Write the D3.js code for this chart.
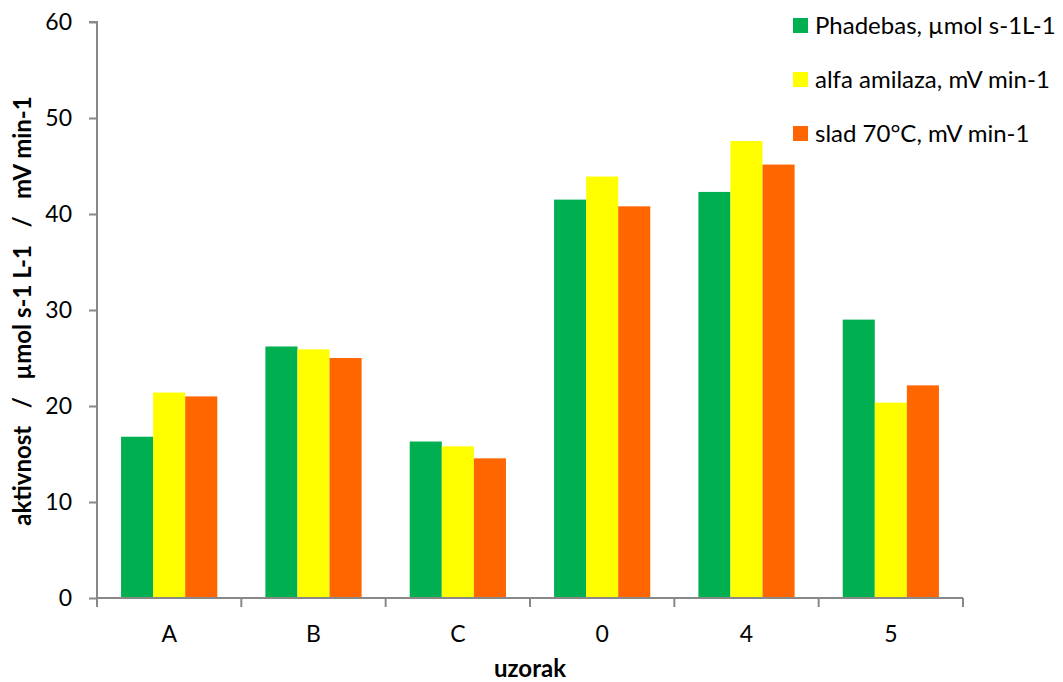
<!DOCTYPE html>
<html><head><meta charset="utf-8">
<script src="https://cdn.jsdelivr.net/npm/d3@7"></script>
<style>
body{margin:0;background:#fff;}
text{font-family:Lato, "Open Sans", sans-serif;}
</style></head>
<body><svg id="c" width="1063" height="682"></svg>
<script>
const categories = ["A","B","C","0","4","5"];
const seriesNames = ["Phadebas, µmol s-1L-1","alfa amilaza, mV min-1","slad 70°C, mV min-1"];
const phadebas = [16.8, 26.2, 16.3, 41.5, 42.3, 29.0];
const alfaAmilaza = [21.4, 25.9, 15.8, 43.9, 47.6, 20.35];
const slad70 = [21.0, 25.0, 14.55, 40.8, 45.15, 22.15];
const yTicks = [0,10,20,30,40,50,60];
const colors = ["#00B050","#FFFF00","#FF6600"];
const seriesValues = [phadebas, alfaAmilaza, slad70];

const svg = d3.select("#c");
const m = {left:97, right:963, top:22, bottom:598};
const x = d3.scaleBand().domain(categories).range([m.left, m.right]).paddingInner(0).paddingOuter(0);
const inner = d3.scaleBand().domain(d3.range(3)).range([0, x.bandwidth()]).paddingInner(0).paddingOuter(0.75);
const y = d3.scaleLinear().domain([0,60]).range([m.bottom, m.top]);

// bars
seriesValues.forEach((vals, si) => {
  svg.append("g").selectAll("rect").data(vals).join("rect")
    .attr("x", (d,i) => x(categories[i]) + inner(si))
    .attr("y", d => y(d))
    .attr("width", inner.bandwidth())
    .attr("height", d => y(0) - y(d))
    .attr("fill", colors[si]);
});

// y axis
const ya = svg.append("g").attr("transform", `translate(${m.left},0)`)
  .call(d3.axisLeft(y).tickValues(yTicks).tickSize(8).tickPadding(17));
ya.select(".domain").attr("stroke","#888").attr("stroke-width",2).attr("d", `M-8,${y(60)}H0V${y(0)}`);
ya.selectAll(".tick line").attr("stroke","#888").attr("stroke-width",2);
ya.selectAll(".tick text").attr("font-size",23).attr("fill","#000").attr("font-family","Lato");

// x axis
const xa = svg.append("g").attr("transform", `translate(0,${m.bottom})`)
  .call(d3.axisBottom(x).tickSize(0).tickPadding(27.5));
xa.select(".domain").attr("stroke","#888").attr("stroke-width",2).attr("d", `M${m.left},0H${m.right}`);
xa.selectAll(".tick text").attr("font-size",23).attr("fill","#000").attr("font-family","Lato");
svg.append("g").selectAll("line").data(d3.range(categories.length+1)).join("line")
  .attr("x1", i => m.left + i*x.step()).attr("x2", i => m.left + i*x.step())
  .attr("y1", m.bottom).attr("y2", m.bottom+9)
  .attr("stroke","#888").attr("stroke-width",2);

// axis titles
svg.append("text").attr("x", 530).attr("y", 677).attr("text-anchor","middle")
  .attr("font-weight","bold").attr("font-size",24).text("uzorak");
svg.append("text").attr("transform","translate(31,311) rotate(-90)").attr("text-anchor","middle")
  .attr("font-weight","bold").attr("font-size",24).style("white-space","pre")
  .text("aktivnost   /   µmol s-1 L-1   /   mV min-1");

// legend
const lg = svg.append("g");
seriesNames.forEach((n, i) => {
  const cy = 25.5 + i*54;
  lg.append("rect").attr("x",793).attr("y",cy-7.5).attr("width",15).attr("height",15).attr("fill",colors[i]);
  lg.append("text").attr("x",815).attr("y",cy+8).attr("font-size",24).attr("fill","#000").text(n);
});
</script></body></html>
